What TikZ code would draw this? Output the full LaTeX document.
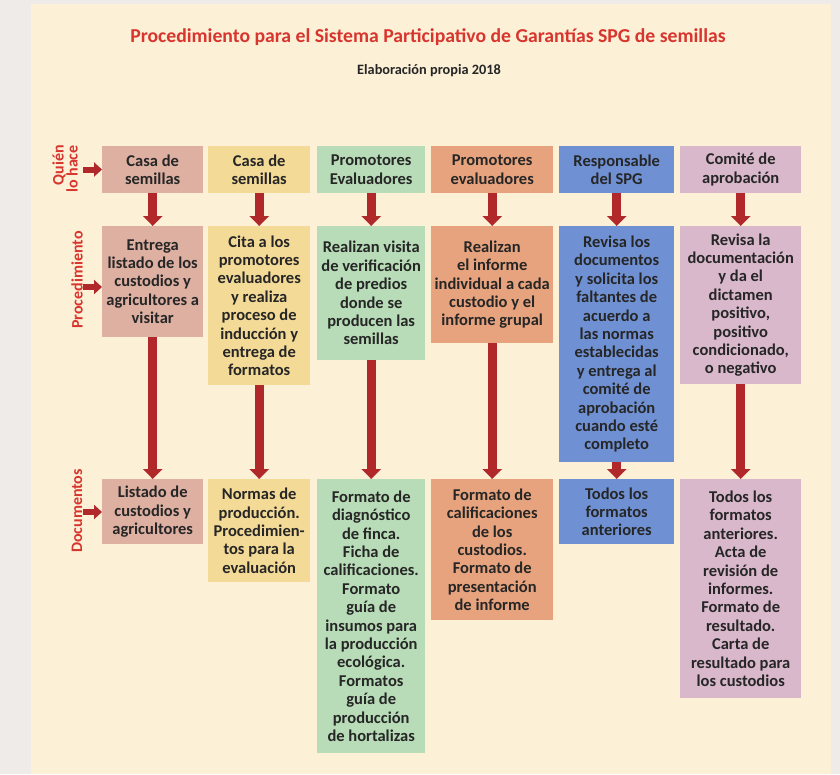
\documentclass[tikz,border=0pt]{standalone}
\usepackage{fontspec}
\setmainfont{Carlito}
\usetikzlibrary{arrows.meta}

\definecolor{fondo}{HTML}{EFEBE9}
\definecolor{crema}{HTML}{FCF0D6}
\definecolor{rojo}{HTML}{B0282A}
\definecolor{rojotitulo}{HTML}{D7352E}
\definecolor{texto}{HTML}{262626}
\definecolor{rosa}{HTML}{DDB0A2}
\definecolor{amarillo}{HTML}{F4DA97}
\definecolor{verde}{HTML}{B7DCB7}
\definecolor{naranja}{HTML}{E7A37E}
\definecolor{azul}{HTML}{6F91D4}
\definecolor{lila}{HTML}{D9B8CC}

\begin{document}
\begin{tikzpicture}[x=1pt, y=-1pt,
        caja/.style={rectangle, anchor=north west, inner sep=2pt, align=center, text=texto,
            font=\bfseries\fontsize{16.5}{18.4}\selectfont},
        col1/.style={caja, fill=rosa, minimum width=101pt},
        col2/.style={caja, fill=amarillo, minimum width=102pt},
        col3/.style={caja, fill=verde, minimum width=108pt},
        col4/.style={caja, fill=naranja, minimum width=122pt},
        col5/.style={caja, fill=azul, minimum width=115pt},
        col6/.style={caja, fill=lila, minimum width=121pt},
        flecha/.style={draw=rojo, line width=9pt, -{Triangle[width=19pt, length=10pt]}},
        flechita/.style={draw=rojo, line width=6pt, -{Triangle[width=14pt, length=8pt]}},
        fila/.style={text=rojotitulo, rotate=90, align=right,
            font=\bfseries\fontsize{16}{14}\selectfont}]
        \fill[fondo] (0, 0) rectangle (840, 774);
        \fill[crema] (31, 4) rectangle (831, 774);

        \node[text=rojotitulo, font=\bfseries\fontsize{19.7}{22}\selectfont] (titulo) at (428, 37)
            {Procedimiento para el Sistema Participativo de Garantías SPG de semillas};
        \node[text=texto, font=\bfseries\fontsize{14.3}{16}\selectfont] (autoria) at (429, 71)
            {Elaboración propia 2018};

        \node[col1, minimum height=47pt] (q1) at (102, 146) {Casa de\\semillas};
        \node[col2, minimum height=47pt] (q2) at (208, 146) {Casa de\\semillas};
        \node[col3, minimum height=47pt] (q3) at (317, 146) {Promotores\\Evaluadores};
        \node[col4, minimum height=47pt] (q4) at (431, 146) {Promotores\\evaluadores};
        \node[col5, minimum height=47pt] (q5) at (559, 146) {Responsable\\del SPG};
        \node[col6, minimum height=47pt] (q6) at (680, 146) {Comité de\\aprobación};

        \node[col1, minimum height=111pt] (p1) at (102, 226)
            {Entrega\\listado de los\\custodios y\\agricultores a\\visitar};
        \node[col2, minimum height=159pt] (p2) at (208, 226)
            {Cita a los\\promotores\\evaluadores\\y realiza\\proceso de\\inducción y\\entrega de\\formatos};
        \node[col3, minimum height=134pt] (p3) at (317, 226)
            {Realizan visita\\de verificación\\de predios\\donde se\\producen las\\semillas};
        \node[col4, minimum height=117pt] (p4) at (431, 226)
            {Realizan\\el informe\\individual a cada\\custodio y el\\informe grupal};
        \node[col5, minimum height=236pt] (p5) at (559, 226)
            {Revisa los\\documentos\\y solicita los\\faltantes de\\acuerdo a\\las normas\\establecidas\\y entrega al\\comité de\\aprobación\\cuando esté\\completo};
        \node[col6, minimum height=158pt] (p6) at (680, 226)
            {Revisa la\\documentación\\y da el\\dictamen\\positivo,\\positivo\\condicionado,\\o negativo};

        \node[col1, minimum height=65pt] (d1) at (102, 479)
            {Listado de\\custodios y\\agricultores};
        \node[col2, minimum height=103pt] (d2) at (208, 479)
            {Normas de\\producción.\\Procedimien-\\tos para la\\evaluación};
        \node[col3, minimum height=274pt] (d3) at (317, 479)
            {Formato de\\diagnóstico\\de finca.\\Ficha de\\calificaciones.\\Formato\\guía de\\insumos para\\la producción\\ecológica.\\Formatos\\guía de\\producción\\de hortalizas};
        \node[col4, minimum height=141pt] (d4) at (431, 479)
            {Formato de\\calificaciones\\de los\\custodios.\\Formato de\\presentación\\de informe};
        \node[col5, minimum height=65pt] (d5) at (559, 479)
            {Todos los\\formatos\\anteriores};
        \node[col6, minimum height=219pt] (d6) at (680, 479)
            {Todos los\\formatos\\anteriores.\\Acta de\\revisión de\\informes.\\Formato de\\resultado.\\Carta de\\resultado para\\los custodios};

        \draw[flecha] (q1) -- (p1);
        \draw[flecha] (q2) -- (p2);
        \draw[flecha] (q3) -- (p3);
        \draw[flecha] (q4) -- (p4);
        \draw[flecha] (q5) -- (p5);
        \draw[flecha] (q6) -- (p6);
        \draw[flecha] (p1) -- (d1);
        \draw[flecha] (p2) -- (d2);
        \draw[flecha] (p3) -- (d3);
        \draw[flecha] (p4) -- (d4);
        \draw[flecha] (p5) -- (d5);
        \draw[flecha] (p6) -- (d6);

        \node[fila] (quien) at (65, 169) {Quién\\lo hace};
        \node[fila] (proc) at (77, 280) {Procedimiento};
        \node[fila] (docs) at (77, 511) {Documentos};

        \coordinate (a1) at (83, 169.5);
        \coordinate (a2) at (83, 287);
        \coordinate (a3) at (83, 512);
        \draw[flechita] (a1) -- (a1 -| q1.west);
        \draw[flechita] (a2) -- (a2 -| p1.west);
        \draw[flechita] (a3) -- (a3 -| d1.west);
    \end{tikzpicture}
\end{document}
